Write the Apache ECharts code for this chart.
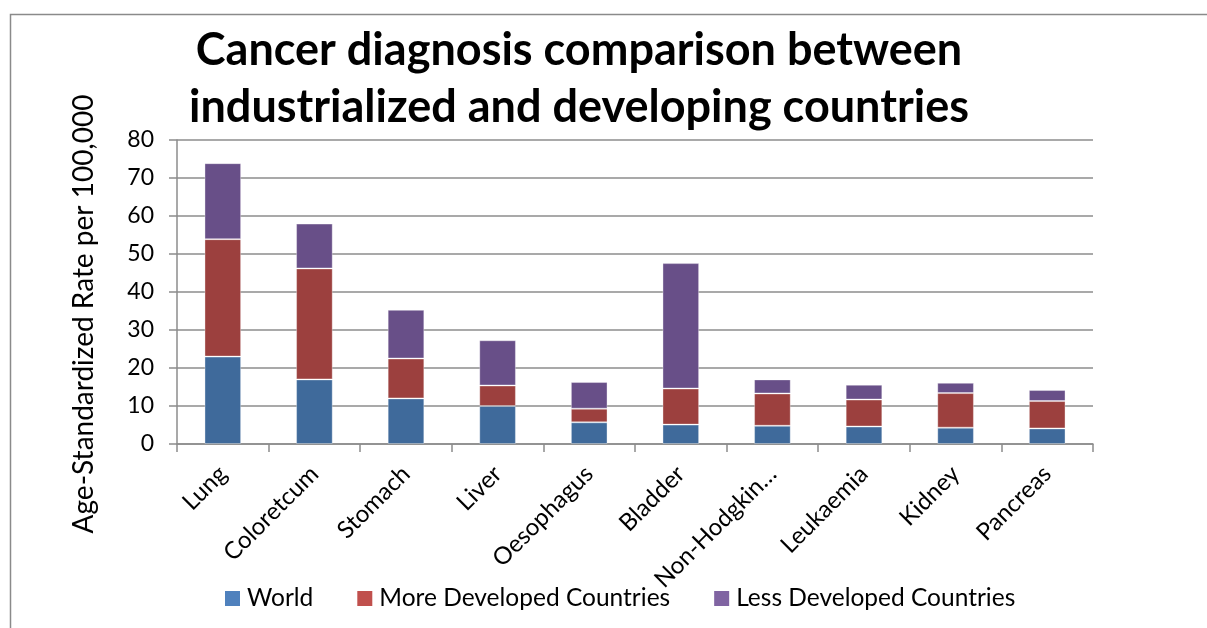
<!DOCTYPE html>
<html>
<head>
<meta charset="utf-8">
<title>Cancer diagnosis comparison</title>
<script src="https://cdn.jsdelivr.net/npm/echarts@6/dist/echarts.min.js"></script>
<style>
  html, body { margin: 0; padding: 0; background: #fff; }
  #chart { width: 1207px; height: 628px; }
</style>
</head>
<body>
<div id="chart"></div>
<script>
// Cancer sites shown on the category axis
const categories = ['Lung', 'Coloretcum', 'Stomach', 'Liver', 'Oesophagus', 'Bladder',
  'Non-Hodgkin lymphoma', 'Leukaemia', 'Kidney', 'Pancreas'];

// Age-standardized rates per 100,000 (stacked segments)
const world = [23.0, 17.0, 12.0, 10.0, 5.7, 5.1, 4.8, 4.6, 4.3, 4.1];
const moreDeveloped = [30.9, 29.2, 10.5, 5.4, 3.6, 9.5, 8.5, 7.1, 9.1, 7.2];
const lessDeveloped = [20.0, 11.8, 12.8, 11.9, 7.0, 33.0, 3.7, 3.9, 2.7, 2.9];

const seriesNames = ['World', 'More Developed Countries', 'Less Developed Countries'];
const yTicks = [0, 10, 20, 30, 40, 50, 60, 70, 80];

const FONT = 'Lato, "Open Sans", sans-serif';
const barColors = ['#3f6a9b', '#9c403e', '#684f88'];
const keyColors = ['#4f81bd', '#c0504d', '#8064a2'];
const gridColor = '#8c8c8c';

const chart = echarts.init(document.getElementById('chart'), null, { renderer: 'canvas' });

const seriesData = [world, moreDeveloped, lessDeveloped];

chart.setOption({
  backgroundColor: '#ffffff',
  animation: false,
  title: {
    text: 'Cancer diagnosis comparison between\nindustrialized and developing countries',
    left: 574,
    top: 17,
    textAlign: 'center',
    textStyle: {
      fontFamily: FONT,
      fontWeight: 'bold',
      fontSize: 45,
      lineHeight: 57,
      color: '#000'
    }
  },
  graphic: [{
    type: 'rect',
    silent: true,
    shape: { x: 10.5, y: 14.5, width: 1400, height: 800 },
    style: { fill: 'none', stroke: '#8a8a8a', lineWidth: 1.5 }
  }],
  legend: {
    left: 220,
    top: 581,
    itemWidth: 15,
    itemHeight: 15,
    itemGap: 44,
    icon: 'rect',
    textStyle: { fontFamily: FONT, fontSize: 24.5, color: '#000', padding: [0, 0, 0, 2] },
    data: seriesNames.map((n, i) => ({ name: n, itemStyle: { color: keyColors[i], borderWidth: 0 } }))
  },
  grid: {
    left: 177,
    right: 114,
    top: 140,
    bottom: 184,
    containLabel: false
  },
  xAxis: {
    type: 'category',
    data: categories,
    boundaryGap: true,
    axisLine: { show: true, lineStyle: { color: gridColor, width: 1.5 } },
    axisTick: { show: true, length: 8, alignWithLabel: false, lineStyle: { color: gridColor, width: 1.5 } },
    axisLabel: {
      interval: 0,
      rotate: 45,
      margin: 26,
      fontFamily: FONT,
      fontSize: 24,
      color: '#000',
      formatter: v => v.length > 12 ? v.slice(0, 11) + '\u2026' : v
    }
  },
  yAxis: {
    type: 'value',
    min: yTicks[0],
    max: yTicks[yTicks.length - 1],
    interval: 10,
    name: 'Age-Standardized Rate per 100,000',
    nameLocation: 'middle',
    nameRotate: 90,
    nameGap: 79,
    nameTextStyle: { fontFamily: FONT, fontSize: 28, color: '#000', padding: [0, 44, 0, 0] },
    axisLine: { show: true, lineStyle: { color: gridColor, width: 1.5 } },
    axisTick: { show: true, length: 8, lineStyle: { color: gridColor, width: 1.5 } },
    axisLabel: { margin: 23, fontFamily: FONT, fontSize: 23, color: '#000' },
    splitLine: { show: true, lineStyle: { color: gridColor, width: 1.5 } }
  },
  series: seriesNames.map((n, i) => ({
    name: n,
    type: 'bar',
    stack: 'rate',
    barWidth: '40%',
    data: seriesData[i],
    itemStyle: {
      color: barColors[i],
      borderColor: 'rgba(255,255,255,0.35)',
      borderWidth: 1
    }
  }))
});
</script>
</body>
</html>
